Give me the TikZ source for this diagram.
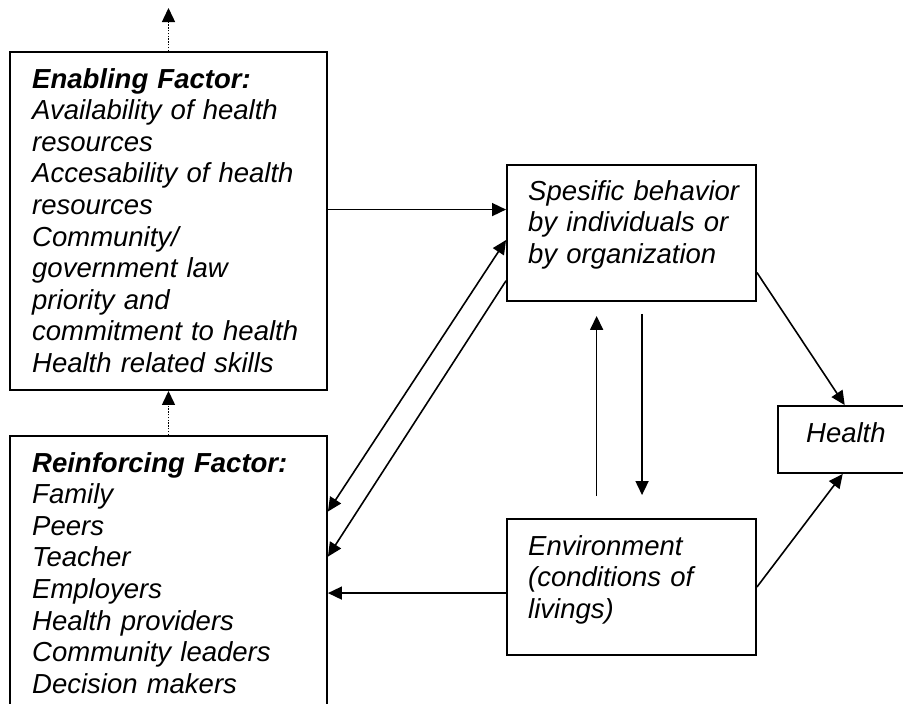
\documentclass[tikz,border=0pt]{standalone}
\usepackage{fontspec}
\setmainfont{Liberation Sans}
\usetikzlibrary{arrows.meta,calc}

\tikzset{
  box/.style={draw, line width=1.9pt, inner sep=0pt, rectangle},
  label/.style={inner sep=0pt, anchor=base west, align=left, text width=310pt,
    font=\itshape\fontsize{27.5pt}{31.6pt}\selectfont},
  arr/.style={line width=1.6pt, -{Triangle[length=14pt,width=13pt]}},
  dblarr/.style={line width=1.6pt, {Triangle[length=14pt,width=13pt]}-{Triangle[length=14pt,width=13pt]}},
  dotarr/.style={line width=1.4pt, dash pattern=on 1.4pt off 1.4pt, -{Triangle[length=14pt,width=13pt]}},
}

\begin{document}
\begin{tikzpicture}[x=1pt, y=-1pt]
  \useasboundingbox (0,0) rectangle (903,704);
  \fill[white] (0,0) rectangle (903,704);
  \clip (0,0) rectangle (903,704);

  % boxes
  \node[box, minimum width=317pt, minimum height=338pt] (enab)   at (168.5,221)   {};
  \node[box, minimum width=317pt, minimum height=324pt] (reinf)  at (168.5,598)   {};
  \node[box, minimum width=249pt, minimum height=136pt] (spec)   at (631.5,233)   {};
  \node[box, minimum width=249pt, minimum height=136pt] (env)    at (631.5,587)   {};
  \node[box, minimum width=182pt, minimum height=67pt]  (health) at (869,439.5)   {};

  % texts
  \node[label] (enabtxt) at (32,88) {\textbf{Enabling Factor:}\\
    Availability of health\\ resources\\ Accesability of health\\ resources\\
    Community/\\ government law\\ priority and\\ commitment to health\\
    Health related skills};
  \node[label] (reinftxt) at (32,472) {\textbf{Reinforcing Factor:}\\
    Family\\ Peers\\ Teacher\\ Employers\\ Health providers\\
    Community leaders\\ Decision makers};
  \node[label, text width=230pt] (spectxt) at (528,200)
    {Spesific behavior\\ by individuals or\\ by organization};
  \node[label, text width=230pt] (envtxt) at (528,555)
    {Environment\\ (conditions of\\ livings)};
  \node[label, text width=100pt] (healthtxt) at (806,442) {Health};

  % connector end points
  \coordinate (topEnd) at (168.5,8);
  \coordinate (sIn)  at ($(spec.north west)!0.33!(spec.south west)$);
  \coordinate (sA)   at ($(spec.north west)!0.551!(spec.south west)$);
  \coordinate (sB)   at ($(spec.north west)!0.846!(spec.south west)$);
  \coordinate (rA)   at ($(reinf.north east)!0.2346!(reinf.south east)$);
  \coordinate (rB)   at ($(reinf.north east)!0.373!(reinf.south east)$);
  \coordinate (eW)   at ($(env.north west)!0.544!(env.south west)$);
  \coordinate (upB)  at ($(env.north west)!0.361!(env.north east)+(0,-22)$);
  \coordinate (upT)  at ($(spec.south west)!0.361!(spec.south east)+(0,14)$);
  \coordinate (dnT)  at ($(spec.south west)!0.542!(spec.south east)+(0,12)$);
  \coordinate (dnB)  at ($(env.north west)!0.542!(env.north east)+(0,-23)$);
  \coordinate (sOut) at ($(spec.north east)!0.787!(spec.south east)$);
  \coordinate (hTop) at ($(health.north west)!0.368!(health.north east)$);
  \coordinate (hBot) at ($(health.south west)!0.357!(health.south east)$);

  % connectors
  \draw[dotarr] (enab.north) -- (topEnd);
  \draw[dotarr] (reinf.north) -- (enab.south);
  \draw[arr] (enab.east |- sIn) -- (sIn);
  \draw[dblarr] (rA) -- (sA);
  \draw[arr] (sB) -- (rB);
  \draw[arr] (eW) -- (reinf.east |- eW);
  \draw[arr] (upB) -- (upT);
  \draw[arr] (dnT) -- (dnB);
  \draw[arr] (sOut) -- (hTop);
  \draw[arr] (env.east) -- (hBot);
\end{tikzpicture}
\end{document}
